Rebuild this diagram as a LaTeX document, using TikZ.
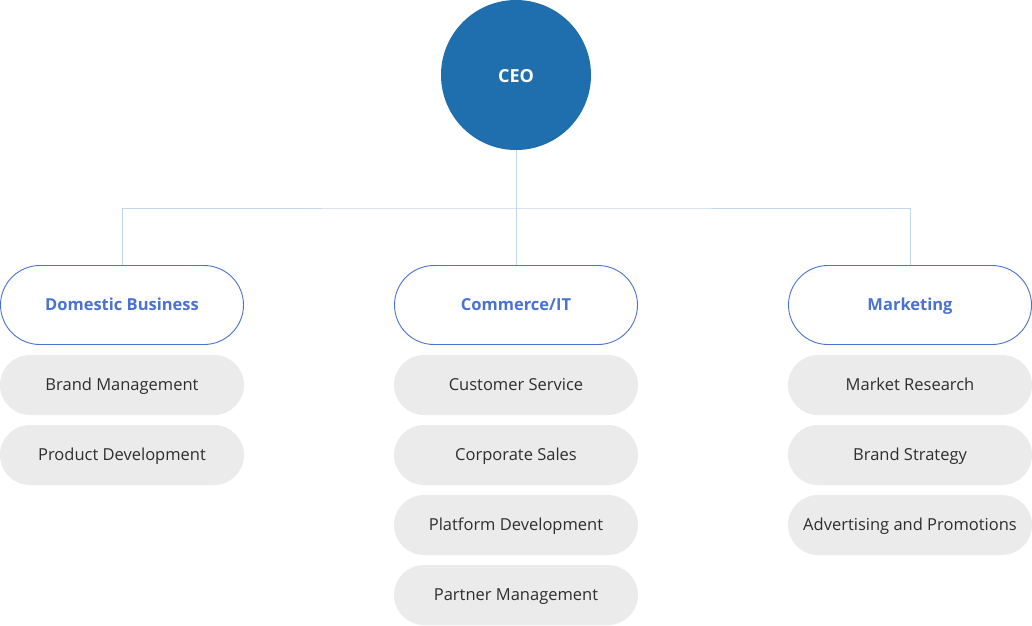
\documentclass[tikz,border=0pt]{standalone}
\usepackage{fontspec}
\setmainfont{Open Sans}
\usetikzlibrary{shapes.misc}
\definecolor{ceoblue}{HTML}{1F6FAE}
\definecolor{deptblue}{HTML}{4A72D0}
\definecolor{linkblue}{HTML}{C3D4EF}
\definecolor{subgray}{HTML}{EBEBEB}
\definecolor{subtext}{HTML}{2E2E2E}
\begin{document}
\begin{tikzpicture}[x=1pt,y=-1pt,
  ceo/.style={circle,fill=ceoblue,minimum size=150pt,inner sep=0pt,text=white,text height=15.5pt,text depth=0pt,font=\fontsize{18}{21}\selectfont\bfseries},
  dept/.style={rounded rectangle,draw=deptblue,line width=0.9pt,fill=white,minimum width=243pt,minimum height=79pt,inner sep=0pt,text=deptblue,text height=11.8pt,text depth=0pt,font=\fontsize{16.5}{19}\selectfont\bfseries},
  sub/.style={rounded rectangle,fill=subgray,minimum width=244pt,minimum height=60pt,inner sep=0pt,text=subtext,text height=11.8pt,text depth=0pt,font=\fontsize{16.5}{19}\selectfont},
  link/.style={draw=linkblue,line width=0.9pt}]
\useasboundingbox (0,0) rectangle (1032,625);
\node[ceo] (ceo) at (516,75) {CEO};
\node[dept] (d1) at (122,305) {Domestic Business};
\node[dept] (d2) at (516,305) {Commerce/IT};
\node[dept] (d3) at (910,305) {Marketing};
\coordinate (bus) at (516,208);
\draw[link] (ceo.south) -- (bus);
\draw[link] (d1.north) |- (bus) -| (d3.north);
\draw[link] (bus) -- (d2.north);
\node[sub] (a1) at (122,385) {Brand Management};
\node[sub] (a2) at (122,455) {Product Development};
\node[sub] (b1) at (516,385) {Customer Service};
\node[sub] (b2) at (516,455) {Corporate Sales};
\node[sub] (b3) at (516,525) {Platform Development};
\node[sub] (b4) at (516,595) {Partner Management};
\node[sub] (c1) at (910,385) {Market Research};
\node[sub] (c2) at (910,455) {Brand Strategy};
\node[sub] (c3) at (910,525) {Advertising and Promotions};
\end{tikzpicture}
\end{document}
